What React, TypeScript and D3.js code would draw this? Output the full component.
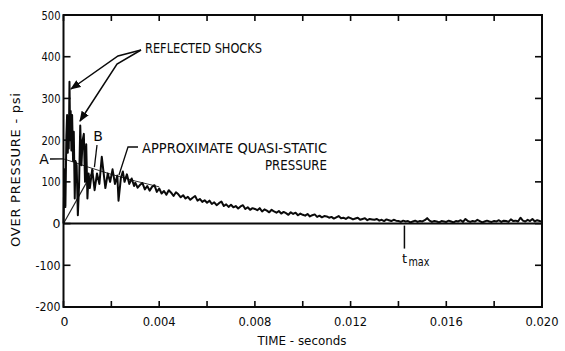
import React from "react";
import * as d3 from "d3";

// ---- Data ----
// Early part of the pressure trace: time (ms) and overpressure (psi)
const earlyTimeMs = [
  0.0, 0.04, 0.08, 0.12, 0.15, 0.18, 0.2, 0.22, 0.25, 0.28, 0.3, 0.33, 0.36,
  0.4, 0.43, 0.47, 0.5, 0.55, 0.6, 0.65, 0.7, 0.75, 0.8, 0.85, 0.9, 0.95, 1.0,
  1.05, 1.1, 1.2, 1.3, 1.4, 1.5, 1.6, 1.75, 1.85, 1.95, 2.05, 2.15, 2.25, 2.3,
  2.4, 2.48, 2.55, 2.65, 2.75, 2.85, 2.95,
];
const earlyPsi = [
  0, 130, 40, 210, 260, 170, 250, 180, 340, 200, 270, 175, 260, 150, 220, 60,
  150, 140, 20, 90, 235, 140, 200, 215, 100, 190, 60, 120, 85, 130, 80, 120, 95,
  160, 85, 120, 100, 130, 95, 115, 55, 110, 125, 100, 118, 95, 108, 90,
];
// Later part of the trace, sampled every 0.1 ms from 3.0 ms to 20.0 ms
const lateStartMs = 3.0;
const lateStepMs = 0.1;
const latePsi = [
  98, 86, 93, 97, 82, 90, 79, 88, 92, 76,
  84, 72, 78, 69, 80, 74, 66, 75, 70, 63,
  68, 60, 64, 57, 62, 66, 55, 59, 52, 56,
  50, 55, 47, 51, 44, 49, 53, 42, 46, 40,
  45, 39, 42, 36, 41, 44, 35, 39, 33, 37,
  35, 32, 37, 29, 34, 31, 27, 33, 29, 26,
  30, 24, 28, 25, 21, 27, 23, 26, 20, 24,
  21, 19, 23, 17, 20, 22, 16, 19, 15, 18,
  17, 14, 16, 12, 15, 18, 13, 14, 11, 15,
  13, 10, 12, 14, 9, 11, 13, 8, 11, 10,
  9, 11, 7, 9, 6, 10, 8, 6, 9, 7,
  6, 4, 7, 5, 6, 3, 5, 7, 4, 6,
  5, 8, 13, 7, 4, 6, 5, 3, 6, 5,
  4, 7, 5, 3, 6, 5, 8, 4, 11, 6,
  4, 6, 5, 9, 6, 3, 5, 7, 5, 4,
  6, 5, 8, 4, 7, 6, 4, 10, 6, 7,
  5, 14, 7, 5, 9, 6, 11, 5, 8, 6,
  5,
];
// Approximate quasi-static pressure curve
const qsTimeMs = [0, 0.5, 1, 1.5, 2, 2.5, 3, 3.5, 4];
const qsPsi = [155, 146, 136, 127, 118, 110, 102, 95, 88];
// Linear rise from origin to point B
const riseTimeMs = [0, 1.25];
const risePsi = [0, 128];

const yTicks = [-200, -100, 0, 100, 200, 300, 400, 500];
const xMinorTicks = [0, 0.002, 0.004, 0.006, 0.008, 0.01, 0.012, 0.014, 0.016, 0.018, 0.02];
const xLabelTicks = [0, 0.004, 0.008, 0.012, 0.016, 0.02];
const xLabelText = ["0", "0.004", "0.008", "0.012", "0.016", "0.020"];
const tMaxSec = 0.01425;

const FONT = "'DejaVu Sans', sans-serif";

export default function App() {
  const W = 565;
  const H = 351;
  const x = d3.scaleLinear().domain([0, 0.02]).range([63.5, 542]);
  const y = d3.scaleLinear().domain([-200, 500]).range([307, 15]);

  const trace: [number, number][] = [];
  earlyTimeMs.forEach((t, i) => trace.push([t / 1000, earlyPsi[i]]));
  latePsi.forEach((v, i) => trace.push([(lateStartMs + i * lateStepMs) / 1000, v]));

  const line = d3
    .line<[number, number]>()
    .x((d) => x(d[0]))
    .y((d) => y(d[1]));

  const qs: [number, number][] = qsTimeMs.map((t, i) => [t / 1000, qsPsi[i]]);
  const rise: [number, number][] = riseTimeMs.map((t, i) => [t / 1000, risePsi[i]]);

  const x0 = x(0), x1 = x(0.02), yTop = y(500), yBot = y(-200);
  const bX = x(riseTimeMs[1] / 1000), bY = y(risePsi[1]);
  const ink = "#0a0a0a";

  const yLabelLen = (v: number) => (v === 0 ? undefined : v < 0 ? 25 : 19);

  return (
    <svg
      width={W}
      height={H}
      style={{ position: "absolute", left: 0, top: 0, background: "#fff" }}
      fontFamily={FONT}
    >
      <defs>
        <marker id="ah" viewBox="0 0 10 10" refX="9" refY="5" markerWidth="7" markerHeight="7" orient="auto">
          <path d="M0,1 L10,5 L0,9 z" fill={ink} />
        </marker>
      </defs>
      <rect width={W} height={H} fill="#fff" />

      {/* quasi-static and rise lines */}
      <path d={line(qs) || ""} fill="none" stroke="#333" strokeWidth={1} />
      <path d={line(rise) || ""} fill="none" stroke="#222" strokeWidth={1.2} />

      {/* trace */}
      <path d={line(trace) || ""} fill="none" stroke={ink} strokeWidth={2} strokeLinejoin="round" />

      {/* frame */}
      <rect x={x0} y={yTop} width={x1 - x0} height={yBot - yTop} fill="none" stroke={ink} strokeWidth={2} />
      <line x1={x0} x2={x1} y1={y(0)} y2={y(0)} stroke={ink} strokeWidth={2} />

      {/* y ticks */}
      {yTicks.map((v) => (
        <g key={"y" + v}>
          <line x1={x0} x2={x0 + 7} y1={y(v)} y2={y(v)} stroke={ink} strokeWidth={1.6} />
          <line x1={x1} x2={x1 - 7} y1={y(v)} y2={y(v)} stroke={ink} strokeWidth={1.6} />
          <text
            x={x0 - 3}
            y={y(v) - (v === -200 ? 1 : 0)}
            textAnchor="end"
            dominantBaseline="central"
            fontSize={12.5}
            fill={ink}
            textLength={yLabelLen(v)}
            lengthAdjust="spacingAndGlyphs"
          >
            {v}
          </text>
        </g>
      ))}
      {/* x ticks */}
      {xMinorTicks.map((v) => (
        <g key={"x" + v}>
          <line x1={x(v)} x2={x(v)} y1={yBot} y2={yBot - 6} stroke={ink} strokeWidth={1.6} />
          <line x1={x(v)} x2={x(v)} y1={yTop} y2={yTop + 6} stroke={ink} strokeWidth={1.6} />
        </g>
      ))}
      {xLabelTicks.map((v, i) => (
        <text
          key={"xl" + v}
          x={x(v) + (v === 0 ? 1 : 0)}
          y={321}
          textAnchor="middle"
          dominantBaseline="central"
          fontSize={12.5}
          fill={ink}
          textLength={v === 0 ? undefined : 33}
          lengthAdjust="spacingAndGlyphs"
        >
          {xLabelText[i]}
        </text>
      ))}

      {/* axis titles */}
      <text x={302} y={340} textAnchor="middle" dominantBaseline="central" fontSize={13} fill={ink} textLength={89} lengthAdjust="spacingAndGlyphs">
        TIME - seconds
      </text>
      <text
        transform={`translate(15,170) rotate(-90)`}
        textAnchor="middle"
        dominantBaseline="central"
        fontSize={13}
        fill={ink}
        textLength={154}
        lengthAdjust="spacing"
      >
        OVER PRESSURE - psi
      </text>

      {/* annotations */}
      <text x={145} y={48} dominantBaseline="central" fontSize={14} fill={ink} textLength={117} lengthAdjust="spacingAndGlyphs">
        REFLECTED SHOCKS
      </text>
      <polyline points="141,50 118,56 71,89" fill="none" stroke={ink} strokeWidth={1.5} markerEnd="url(#ah)" />
      <polyline points="141,50 117,64 80,121" fill="none" stroke={ink} strokeWidth={1.5} markerEnd="url(#ah)" />

      <text x={142} y={148} dominantBaseline="central" fontSize={14} fill={ink} textLength={185} lengthAdjust="spacingAndGlyphs">
        APPROXIMATE QUASI-STATIC
      </text>
      <text x={327} y={165} textAnchor="end" dominantBaseline="central" fontSize={14} fill={ink} textLength={62} lengthAdjust="spacingAndGlyphs">
        PRESSURE
      </text>
      <polyline points="138,147 128,147 119,175" fill="none" stroke={ink} strokeWidth={1.3} />

      <text x={44} y={159} textAnchor="middle" dominantBaseline="central" fontSize={14} fill={ink}>
        A
      </text>
      <line x1={50} x2={x0} y1={159} y2={y(qsPsi[0])} stroke={ink} strokeWidth={1.3} />

      <text x={98} y={136} textAnchor="middle" dominantBaseline="central" fontSize={14} fill={ink}>
        B
      </text>
      <line x1={97} x2={bX + 1} y1={145} y2={bY - 3} stroke={ink} strokeWidth={1.3} />

      {/* t max */}
      <line x1={x(tMaxSec)} x2={x(tMaxSec)} y1={y(0) + 2} y2={y(0) + 25} stroke={ink} strokeWidth={1.5} />
      <text x={x(tMaxSec)} y={258} textAnchor="middle" dominantBaseline="central" fontSize={13} fill={ink}>
        t
      </text>
      <text x={x(tMaxSec) + 4} y={262} dominantBaseline="central" fontSize={12} fill={ink} textLength={21} lengthAdjust="spacingAndGlyphs">
        max
      </text>
    </svg>
  );
}
